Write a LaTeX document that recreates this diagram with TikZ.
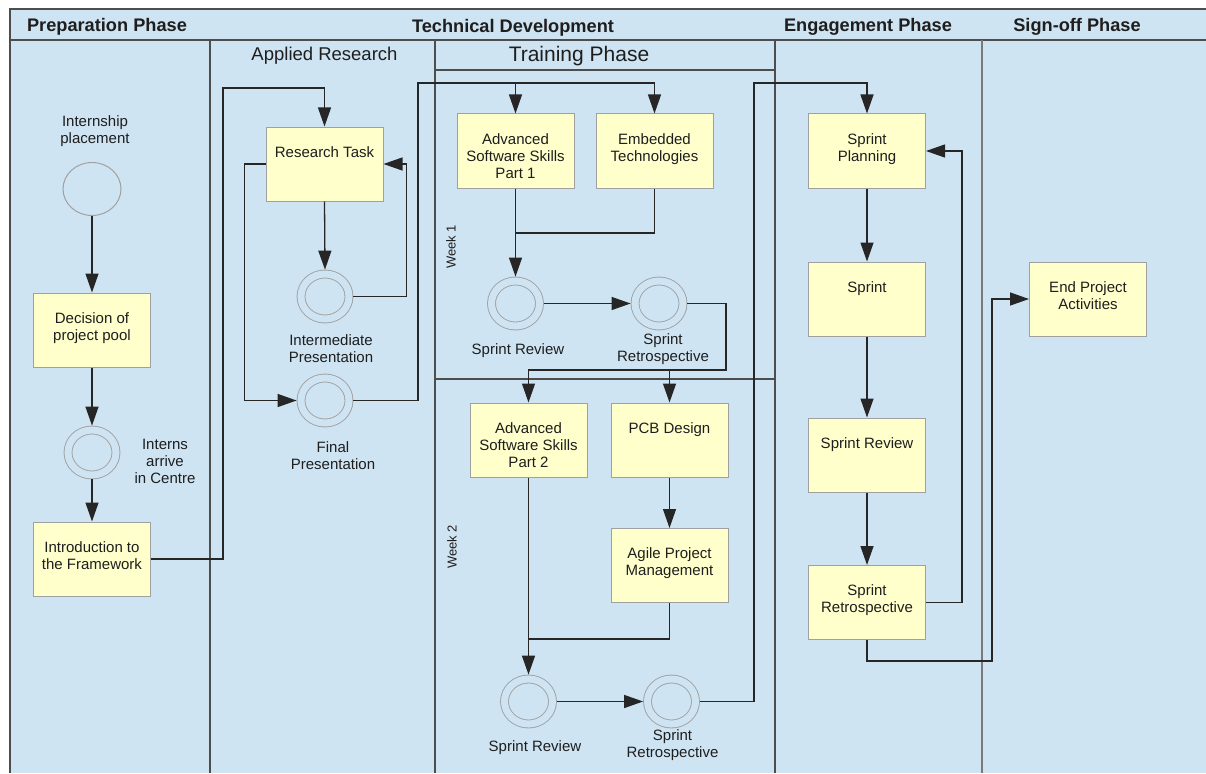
\documentclass[tikz,border=0pt]{standalone}
\usepackage{fontspec}
\setmainfont{Liberation Sans}
\usetikzlibrary{arrows.meta,shapes.geometric}
\definecolor{bgblue}{HTML}{CFE4F2}
\definecolor{boxfill}{HTML}{FFFFCC}
\definecolor{boxline}{HTML}{A0A0A0}
\definecolor{laneline}{HTML}{4D4D4D}
\definecolor{txt}{HTML}{1E1E1E}
\newcommand\tasktext[1]{\parbox[c][74pt][t]{117pt}{\centering\fontsize{15}{17}\selectfont\rule{0pt}{30pt}#1}}
\begin{document}
\begin{tikzpicture}[x=1pt,y=-1pt,
  task/.style={draw=boxline, fill=boxfill, line width=1pt, inner sep=0pt, text=txt},
  evt/.style={ellipse, draw=boxline, line width=0.9pt, double=bgblue, double distance=7pt, minimum width=48pt, minimum height=45pt, inner sep=0pt, outer sep=4.4pt},
  startevt/.style={ellipse, draw=boxline, line width=1pt, fill=bgblue, minimum width=58pt, minimum height=53pt, inner sep=0pt},
  lbl/.style={align=center, font=\fontsize{15}{17}\selectfont, text=txt, inner sep=0pt},
  hdr/.style={font=\fontsize{18.2}{20}\selectfont\bfseries, text=txt, inner sep=0pt},
  flow/.style={draw=black!85, line width=1.3pt, -{Triangle[length=19pt,width=13pt]}},
  link/.style={draw=black!85, line width=1.3pt},
  lane/.style={draw=laneline, line width=1.3pt}]
\useasboundingbox (0,0) rectangle (1206,773);
\fill[bgblue] (10,9) rectangle (1206,773);
\draw[lane] (1206,9) -- (10,9) -- (10,773);
\draw[lane] (10,40) -- (1206,40);
\foreach \x in {210,435,775} \draw[lane] (\x,40) -- (\x,773);
\draw[lane, draw=laneline!75] (982,40) -- (982,773);
\draw[lane] (435,70) -- (775,70);
\draw[lane] (435,379) -- (775,379);

% headers
\node[hdr] (hprep) at (107,26.5) {Preparation Phase};
\node[hdr] (htech) at (513,27.5) {Technical Development};
\node[hdr] (heng) at (868,26.5) {Engagement Phase};
\node[hdr] (hsign) at (1077,26.5) {Sign-off Phase};
\node[font=\fontsize{18.5}{20}\selectfont, text=txt, inner sep=0pt] (happ) at (324.5,56) {Applied Research};
\node[font=\fontsize{21}{24}\selectfont, text=txt, inner sep=0pt] (htrain) at (579,56) {Training Phase};
\node[rotate=90, font=\fontsize{13}{15}\selectfont, text=txt, inner sep=0pt] (wk1) at (451,247) {Week 1};
\node[rotate=90, font=\fontsize{13}{15}\selectfont, text=txt, inner sep=0pt] (wk2) at (452,547) {Week 2};

% preparation
\node[lbl] (lintern) at (95,131) {Internship\\placement};
\node[startevt] (start) at (92,189) {};
\node[task] (decision) at (92,330) {\tasktext{Decision of\\project pool}};
\node[evt] (arrive) at (92,452.5) {};
\node[lbl] (larrive) at (165,461) {Interns\\arrive\\in Centre};
\node[task] (intro) at (92,559) {\tasktext{Introduction to\\the Framework}};

% applied research
\node[task] (research) at (324.5,164) {\tasktext{Research Task}};
\node[evt] (inter) at (325,296.5) {};
\node[lbl] (linter) at (331,348.5) {Intermediate\\Presentation};
\node[evt] (final) at (325,400.5) {};
\node[lbl] (lfinal) at (333,455.5) {Final\\Presentation};

% training week 1
\node[task] (ass1) at (515.5,151) {\tasktext{Advanced\\Software Skills\\Part 1}};
\node[task] (emb) at (654.5,151) {\tasktext{Embedded\\Technologies}};
\node[evt] (sr1) at (515.5,303.5) {};
\node[lbl] (lsr1) at (518,350.5) {Sprint Review};
\node[evt] (retro1) at (659,303.5) {};
\node[lbl] (lretro1) at (663,349) {Sprint\\Retrospective};

% training week 2
\node[task] (ass2) at (528.5,440) {\tasktext{Advanced\\Software Skills\\Part 2}};
\node[task] (pcb) at (669.5,440) {\tasktext{PCB Design}};
\node[task] (agile) at (669.5,565.5) {\tasktext{Agile Project\\Management}};
\node[evt] (sr2) at (528.5,701.5) {};
\node[lbl] (lsr2) at (535,748) {Sprint Review};
\node[evt] (retro2) at (671.5,701.5) {};
\node[lbl] (lretro2) at (672.5,745.5) {Sprint\\Retrospective};

% engagement
\node[task] (plan) at (867,151) {\tasktext{Sprint\\Planning}};
\node[task] (sprint) at (867,299) {\tasktext{Sprint}};
\node[task] (srev) at (867,455) {\tasktext{Sprint Review}};
\node[task] (sretro) at (867,602.5) {\tasktext{Sprint\\Retrospective}};

% sign-off
\node[task] (endp) at (1088,299) {\tasktext{End Project\\Activities}};

% junction coordinates
\coordinate (j0) at (223,88);
\coordinate (j1) at (418,83);
\coordinate (j2) at (515.5,233);
\coordinate (j3) at (726,370);
\coordinate (j4) at (528.5,639);
\coordinate (j5) at (754,83);
\coordinate (j6) at (962,151);
\coordinate (j7) at (992,661);

% connectors
\draw[flow] (start.south) -- (decision.north);
\draw[flow] (decision.south) -- (arrive.north);
\draw[flow] (arrive.south) -- (intro.north);
\draw[flow] (intro.east) -| (j0) -| (research.north);
\draw[flow] (research.south) -- (inter.north);
\draw[flow] (inter.east) -| ([xshift=22.7pt]research.east) -- (research.east);
\draw[flow] (research.west) -- ++(-21,0) |- (final.west);
\draw[flow] (final.east) -| (j1) -| (emb.north);
\draw[flow] (ass1.north |- j1) -- (ass1.north);
\draw[flow] (ass1.south) -- (sr1.north);
\draw[link] (emb.south) |- (j2);
\draw[flow] (sr1.east) -- (retro1.west);
\draw[flow] (retro1.east) -| (j3) -| (ass2.north);
\draw[flow] (pcb.north |- j3) -- (pcb.north);
\draw[flow] (pcb.south) -- (agile.north);
\draw[link] (agile.south) |- (j4);
\draw[flow] (ass2.south) -- (sr2.north);
\draw[flow] (sr2.east) -- (retro2.west);
\draw[flow] (retro2.east) -| (j5) -| (plan.north);
\draw[flow] (plan.south) -- (sprint.north);
\draw[flow] (sprint.south) -- (srev.north);
\draw[flow] (srev.south) -- (sretro.north);
\draw[flow] (sretro.east) -| (j6) -- (plan.east);
\draw[flow] (sretro.south) |- (j7) |- (endp.west);
\end{tikzpicture}
\end{document}
